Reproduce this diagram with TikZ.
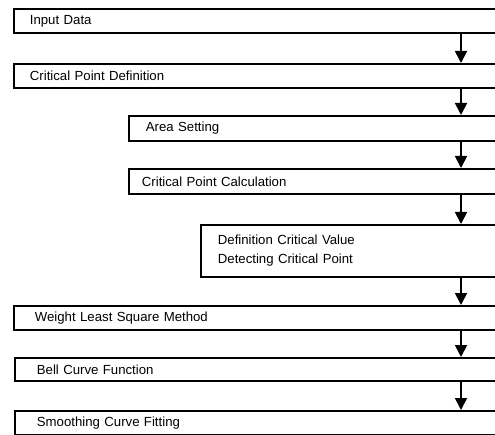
\documentclass[tikz,border=0pt]{standalone}
\usepackage{fontspec}
\setmainfont{Liberation Sans}
\usetikzlibrary{arrows.meta}
\begin{document}
\begin{tikzpicture}[x=1bp,y=-1bp,
  stepbox/.style={draw, line width=1.8bp, rectangle, anchor=north west,
    font=\fontsize{13.2bp}{15bp}\selectfont, align=left, inner ysep=0pt},
  arr/.style={line width=1.8bp, -{Triangle[width=12bp,length=12bp]}}]
\useasboundingbox (0,0) rectangle (495,435);
\clip (0,0) rectangle (495,435);
\fill[white] (0,0) rectangle (495,435);
\coordinate (ax) at (461,0);
\node[stepbox, minimum height=24bp, inner xsep=16bp, text width=470bp] (b1) at (13,8) {Input Data};
\node[stepbox, minimum height=24bp, inner xsep=16bp, text width=470bp] (b2) at (13,63) {Critical Point Definition};
\node[stepbox, minimum height=25bp, inner xsep=17bp, text width=350bp] (b3) at (128,115) {Area Setting};
\node[stepbox, minimum height=25bp, inner xsep=13bp, text width=360bp] (b4) at (128,168) {Critical Point Calculation};
\node[stepbox, minimum height=52bp, inner xsep=17bp, text width=280bp, font=\fontsize{13.2bp}{19bp}\selectfont] (b5) at (200,224) {Definition Critical Value\\Detecting Critical Point};
\node[stepbox, minimum height=24bp, inner xsep=21bp, text width=460bp] (b6) at (13,305) {Weight Least Square Method};
\node[stepbox, minimum height=23bp, inner xsep=22bp, text width=460bp] (b7) at (14,357) {Bell Curve Function};
\node[stepbox, minimum height=24bp, inner xsep=22bp, text width=460bp] (b8) at (14,410) {Smoothing Curve Fitting};
\draw[arr] (b1.south -| ax) -- (b2.north -| ax);
\draw[arr] (b2.south -| ax) -- (b3.north -| ax);
\draw[arr] (b3.south -| ax) -- (b4.north -| ax);
\draw[arr] (b4.south -| ax) -- (b5.north -| ax);
\draw[arr] (b5.south -| ax) -- (b6.north -| ax);
\draw[arr] (b6.south -| ax) -- (b7.north -| ax);
\draw[arr] (b7.south -| ax) -- (b8.north -| ax);
\end{tikzpicture}
\end{document}
